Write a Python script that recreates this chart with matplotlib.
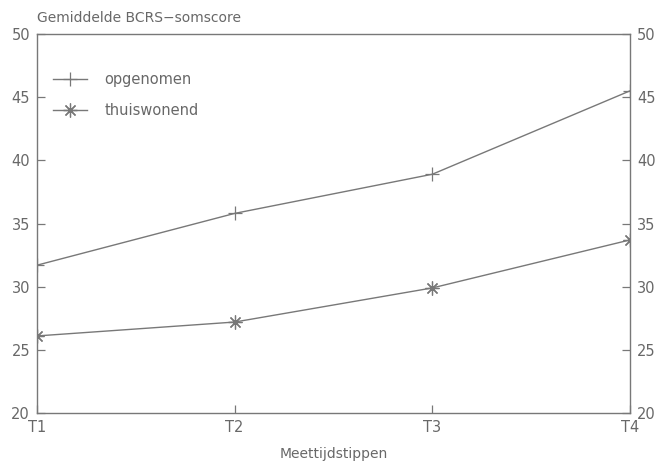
"""Gemiddelde BCRS-somscore per meettijdstip"""

import matplotlib
matplotlib.use("Agg")
import matplotlib.pyplot as plt

# data
timepoints = ["T1", "T2", "T3", "T4"]
opgenomen = [31.7, 35.8, 38.9, 45.5]
thuiswonend = [26.1, 27.2, 29.9, 33.7]
yticks = [20, 25, 30, 35, 40, 45, 50]

grey = "#787878"
text_grey = "#686868"
plt.rcParams["font.family"] = ["DejaVu Sans"]

fig = plt.figure(figsize=(6.59, 4.62), dpi=100)
ax = fig.add_axes([37 / 659, 1 - 413 / 462, (630 - 37) / 659, (413 - 34) / 462])

x = list(range(len(timepoints)))
ax.plot(x, opgenomen, color=grey, lw=1.0, marker="+", ms=10, mew=0.9,
        label="opgenomen")
ax.plot(x, thuiswonend, color=grey, lw=1.0, marker=(8, 2, 0), ms=10, mew=0.9,
        label="thuiswonend")

ax.set_xlim(0, 3)
ax.set_ylim(20, 50)
ax.set_xticks(x)
ax.set_xticklabels(timepoints)
ax.set_yticks(yticks)

for sp in ax.spines.values():
    sp.set_color(grey)
    sp.set_linewidth(1.0)

ax.tick_params(axis="both", direction="in", length=6, width=0.9, color=grey,
               labelcolor=text_grey, labelsize=10.5)
ax.tick_params(axis="y", left=True, right=True, labelleft=True, labelright=True,
               pad=5)
ax.tick_params(axis="x", pad=5)

ax.text(0.0, 1.025, "Gemiddelde BCRS\u2212somscore", transform=ax.transAxes,
        ha="left", va="bottom", fontsize=10, color=text_grey)
ax.set_xlabel("Meettijdstippen", fontsize=10, color=text_grey, labelpad=9)

leg = ax.legend(loc="upper left", bbox_to_anchor=(0.005, 0.935), frameon=False,
                fontsize=10.5, labelcolor=text_grey, handlelength=2.3,
                handletextpad=1.2, labelspacing=1.1)

fig.savefig("out.png", dpi=100)
